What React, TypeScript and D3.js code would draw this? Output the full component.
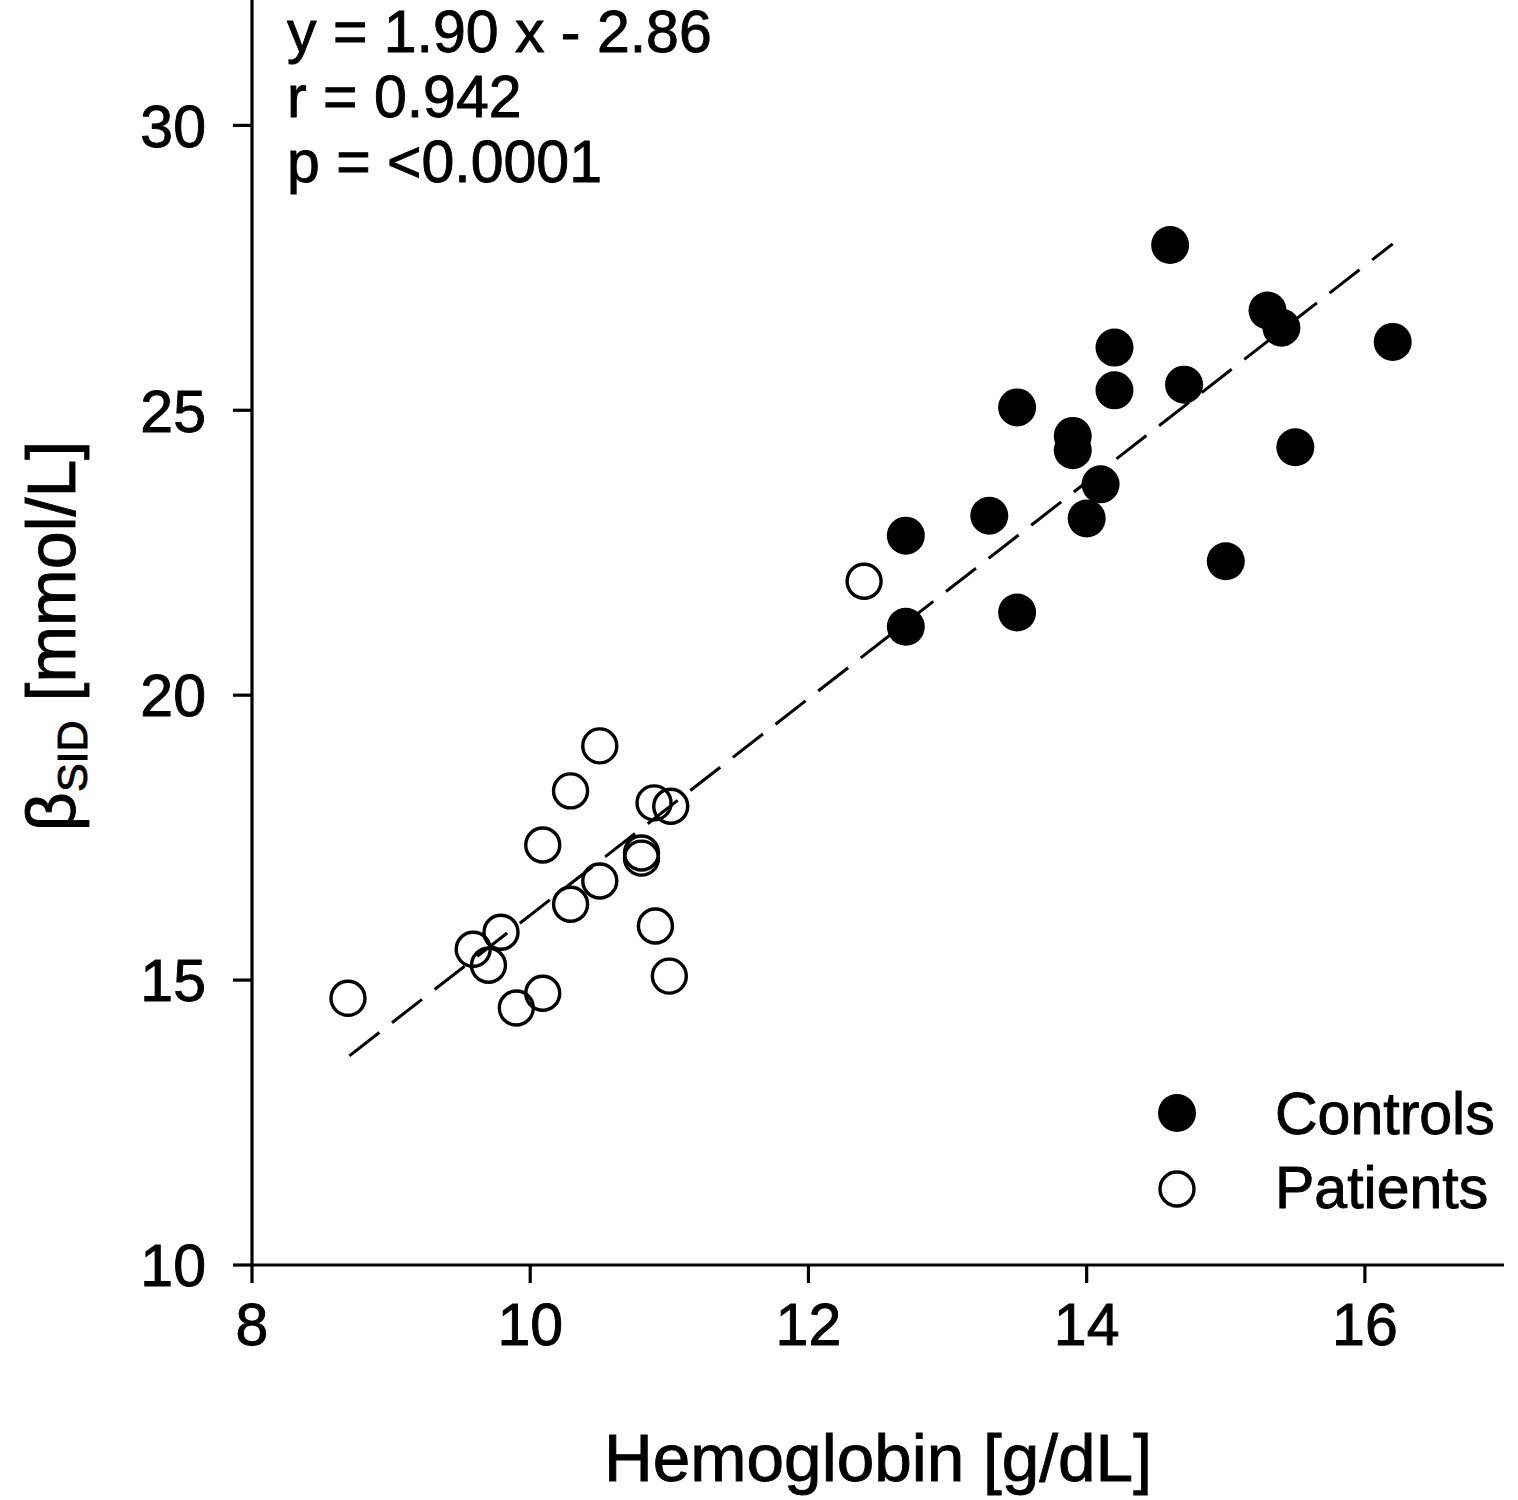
import React from 'react';
import * as d3 from 'd3';

// Controls (filled) : [hemoglobin g/dL, betaSID mmol/L]
const controlsHb = [14.6, 15.3, 15.4, 16.2, 14.2, 14.2, 14.7, 13.5, 13.9, 13.9, 15.5, 14.1, 13.3, 14.0, 12.7, 15.0, 13.5, 12.7];
const controlsBeta = [27.9, 26.75, 26.45, 26.2, 26.1, 25.35, 25.45, 25.05, 24.55, 24.3, 24.35, 23.7, 23.15, 23.1, 22.8, 22.35, 21.45, 21.2];

// Patients (open)
const patientsHb = [12.4, 10.5, 10.29, 10.89, 11.01, 10.09, 10.8, 10.8, 10.5, 10.29, 10.9, 9.79, 9.59, 9.7, 11.0, 8.69, 10.09, 9.9];
const patientsBeta = [22.0, 19.11, 18.32, 18.11, 18.05, 17.37, 17.23, 17.14, 16.74, 16.33, 15.95, 15.84, 15.54, 15.26, 15.07, 14.68, 14.77, 14.51];

const xTicks = [8, 10, 12, 14, 16];
const yTicks = [10, 15, 20, 25, 30];

const slope = 1.9;
const intercept = -2.86;
const fitRange = [8.7, 16.2];

const statLines = ['y = 1.90 x - 2.86', 'r = 0.942', 'p = <0.0001'];

const FONT = '"Liberation Sans", Arial, sans-serif';

export default function App() {
  const x = d3.scaleLinear().domain([8, 17]).range([252, 1504]);
  const y = d3.scaleLinear().domain([10, 32.2]).range([1265, 0]);

  const fit = d3
    .line<number>()
    .x(d => x(d))
    .y(d => y(slope * d + intercept));

  const controls = controlsHb.map((h, i) => [h, controlsBeta[i]]);
  const patients = patientsHb.map((h, i) => [h, patientsBeta[i]]);

  const r = 17;
  // slight outline so glyphs look as heavy as the scanned figure
  const ink = { fill: '#000', stroke: '#000', strokeWidth: 0.9 };

  return (
    <svg
      width={1518}
      height={1500}
      style={{ position: 'absolute', left: 0, top: 0, background: '#fff' }}
      fontFamily={FONT}
    >
      <rect width={1518} height={1500} fill="#fff" />

      {/* axes */}
      <line x1={x(8)} x2={x(17)} y1={y(10)} y2={y(10)} stroke="#000" strokeWidth={3.2} />
      <line x1={x(8)} x2={x(8)} y1={y(10)} y2={y(32.2)} stroke="#000" strokeWidth={3.2} />

      {xTicks.map(t => (
        <g key={'x' + t}>
          <line x1={x(t)} x2={x(t)} y1={y(10)} y2={y(10) + 18} stroke="#000" strokeWidth={3.2} />
          <text x={x(t)} y={y(10) + 80} fontSize={59} textAnchor="middle" {...ink}>
            {t}
          </text>
        </g>
      ))}
      {yTicks.map(t => (
        <g key={'y' + t}>
          <line x1={x(8) - 19} x2={x(8)} y1={y(t)} y2={y(t)} stroke="#000" strokeWidth={3.2} />
          <text x={x(8) - 46} y={y(t)} dy="0.36em" fontSize={59} textAnchor="end" {...ink}>
            {t}
          </text>
        </g>
      ))}

      {/* axis titles */}
      <text x={878} y={1481} fontSize={67.5} textAnchor="middle" {...ink}>
        Hemoglobin [g/dL]
      </text>
      <text transform="translate(75,636) rotate(-90)" fontSize={68} textAnchor="middle" {...ink}>
        β<tspan fontSize={43} dy={12}>SID</tspan>
        <tspan dy={-12}> [mmol/L]</tspan>
      </text>

      {/* regression */}
      <path
        d={fit(fitRange) || ''}
        fill="none"
        stroke="#000"
        strokeWidth={3}
        strokeDasharray="38 16"
      />

      {patients.map((d, i) => (
        <circle key={'p' + i} cx={x(d[0])} cy={y(d[1])} r={r} fill="none" stroke="#000" strokeWidth={3.4} />
      ))}
      {controls.map((d, i) => (
        <circle key={'c' + i} cx={x(d[0])} cy={y(d[1])} r={r + 2} fill="#000" />
      ))}

      {/* stats */}
      {statLines.map((s, i) => (
        <text key={s} x={287} y={52 + i * 65} fontSize={59} {...ink}>
          {s}
        </text>
      ))}

      {/* legend */}
      <circle cx={1177} cy={1113} r={r + 2} fill="#000" />
      <text x={1275} y={1134} fontSize={59} {...ink}>
        Controls
      </text>
      <circle cx={1177} cy={1189} r={r} fill="none" stroke="#000" strokeWidth={3.4} />
      <text x={1275} y={1208} fontSize={59} {...ink}>
        Patients
      </text>
    </svg>
  );
}
